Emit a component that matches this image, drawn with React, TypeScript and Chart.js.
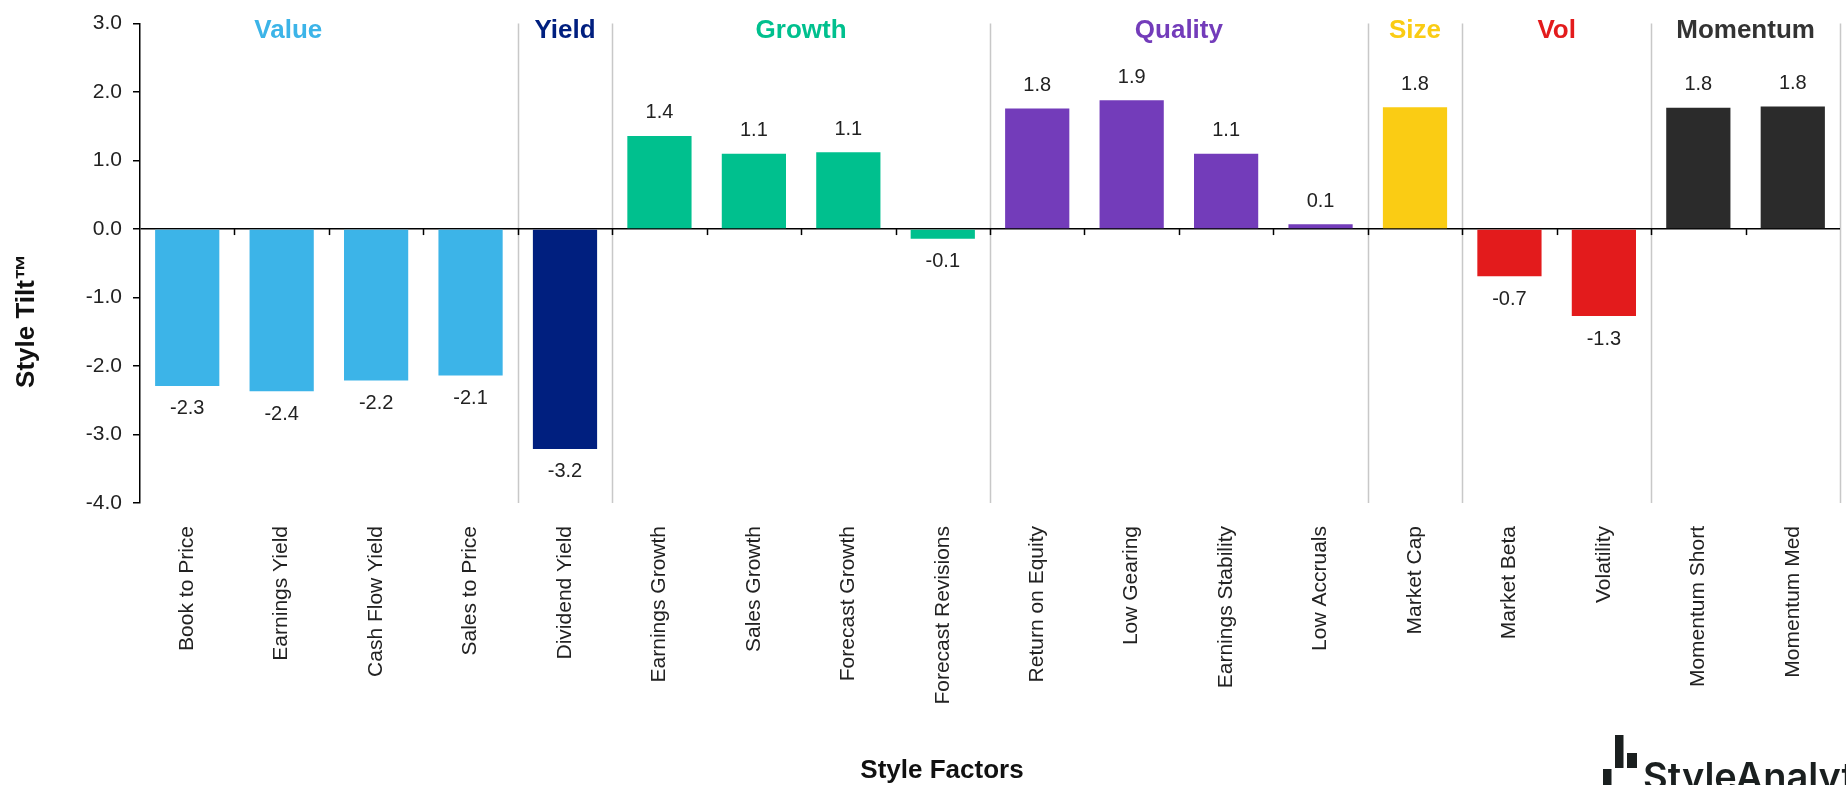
import React, { useEffect, useRef } from "react";
import { Chart, registerables } from "chart.js";

Chart.register(...registerables);

const categories = [
  "Book to Price", "Earnings Yield", "Cash Flow Yield", "Sales to Price",
  "Dividend Yield",
  "Earnings Growth", "Sales Growth", "Forecast Growth", "Forecast Revisions",
  "Return on Equity", "Low Gearing", "Earnings Stability", "Low Accruals",
  "Market Cap",
  "Market Beta", "Volatility",
  "Momentum Short", "Momentum Med",
];

const values = [
  -2.29, -2.37, -2.21, -2.14,
  -3.21,
  1.36, 1.1, 1.12, -0.14,
  1.76, 1.88, 1.1, 0.07,
  1.78,
  -0.69, -1.27,
  1.77, 1.79,
];

const groupNames = ["Value", "Yield", "Growth", "Quality", "Size", "Vol", "Momentum"];
const groupSizes = [4, 1, 4, 4, 1, 2, 2];
const groupColors = ["#3CB4E8", "#001F7F", "#00C08E", "#733CBA", "#FACC14", "#E31B1C", "#2B2B2B"];
const groupTitleColors = ["#3CB4E8", "#001F7F", "#00C08E", "#733CBA", "#FACC14", "#E31B1C", "#333333"];

const yTicks = [-4, -3, -2, -1, 0, 1, 2, 3];

const FONT = "'Liberation Sans', Arial, sans-serif";

function barColors(): string[] {
  const out: string[] = [];
  groupSizes.forEach((n, g) => {
    for (let i = 0; i < n; i++) out.push(groupColors[g]);
  });
  return out;
}

const decor = {
  id: "decor",
  beforeDraw(chart: any) {
    const { ctx, chartArea } = chart;
    const n = categories.length;
    const catW = (chartArea.right - chartArea.left) / n;
    ctx.save();
    ctx.strokeStyle = "#C8C8C8";
    ctx.lineWidth = 1.5;
    let acc = 0;
    groupSizes.forEach((s) => {
      acc += s;
      const x = Math.round(chartArea.left + acc * catW) + 0.5;
      ctx.beginPath();
      ctx.moveTo(x, chartArea.top);
      ctx.lineTo(x, chartArea.bottom);
      ctx.stroke();
    });
    ctx.restore();
  },
  afterDatasetsDraw(chart: any) {
    const { ctx, chartArea, scales } = chart;
    const n = categories.length;
    const catW = (chartArea.right - chartArea.left) / n;
    const y0 = scales.y.getPixelForValue(0);
    ctx.save();
    ctx.strokeStyle = "#000";
    ctx.lineWidth = 1.5;
    for (let i = 1; i < n; i++) {
      const x = Math.round(chartArea.left + i * catW) + 0.5;
      ctx.beginPath();
      ctx.moveTo(x, y0);
      ctx.lineTo(x, y0 + 6);
      ctx.stroke();
    }
    const meta = chart.getDatasetMeta(0);
    ctx.font = `20px ${FONT}`;
    ctx.fillStyle = "#222";
    ctx.textAlign = "center";
    ctx.textBaseline = "middle";
    meta.data.forEach((el: any, i: number) => {
      const v = values[i];
      const y = v >= 0 ? el.y - 23 : el.y + 23;
      ctx.fillText(v.toFixed(1), el.x, y);
    });
    ctx.restore();
  },
  afterDraw(chart: any) {
    const { ctx, chartArea } = chart;
    const n = categories.length;
    const catW = (chartArea.right - chartArea.left) / n;
    const xAt = (idx: number) => chartArea.left + (idx + 0.5) * catW;
    ctx.save();
    ctx.font = `bold 26px ${FONT}`;
    ctx.textAlign = "center";
    ctx.textBaseline = "middle";
    let start = 0;
    groupNames.forEach((name, g) => {
      const size = groupSizes[g];
      let c = start + size / 2 - 0.5;
      if (g === 0) c -= 0.43;
      ctx.fillStyle = groupTitleColors[g];
      ctx.fillText(name, xAt(c), 31);
      start += size;
    });
    ctx.fillStyle = "#111";
    ctx.save();
    ctx.translate(27, 321);
    ctx.rotate(-Math.PI / 2);
    ctx.fillText("Style Tilt\u2122", 0, 0);
    ctx.restore();
    ctx.fillText("Style Factors", 942, 771);
    ctx.fillStyle = "#1A1F1F";
    ctx.fillRect(1603, 769, 8.5, 20);
    ctx.fillRect(1615, 735, 8.5, 33);
    ctx.fillRect(1627, 753, 10, 15);
    ctx.font = `600 38px Inter, ${FONT}`;
    ctx.textAlign = "left";
    ctx.textBaseline = "alphabetic";
    ctx.fillText("StyleAnalytics", 1643, 790);
    ctx.restore();
  },
};

export default function App() {
  const ref = useRef<HTMLCanvasElement | null>(null);
  useEffect(() => {
    document.body.style.margin = "0";
    if (!ref.current) return;
    const chart = new Chart(ref.current, {
      type: "bar",
      data: {
        labels: categories,
        datasets: [
          {
            data: values,
            backgroundColor: barColors(),
            borderWidth: 0,
            categoryPercentage: 1,
            barPercentage: 0.68,
          },
        ],
      },
      options: {
        animation: false,
        responsive: true,
        maintainAspectRatio: false,
        layout: { padding: { top: 19, right: 6, left: 0, bottom: 0 } },
        plugins: {
          legend: { display: false },
          tooltip: { enabled: false },
          title: { display: false },
        },
        scales: {
          x: {
            grid: { display: false },
            border: { display: false },
            ticks: {
              autoSkip: false,
              minRotation: 90,
              maxRotation: 90,
              padding: 15,
              color: "#222",
              font: { family: FONT, size: 21 },
            },
            afterFit: (s: any) => {
              s.height = 282;
              s.paddingLeft = 0;
              s.paddingRight = 0;
            },
          },
          y: {
            min: yTicks[0],
            max: yTicks[yTicks.length - 1],
            afterBuildTicks: (s: any) => {
              s.ticks = yTicks.map((v) => ({ value: v }));
            },
            grid: {
              color: (c: any) => (c.tick && c.tick.value === 0 ? "#000" : "rgba(0,0,0,0)"),
              tickColor: "#000",
              tickLength: 7,
              lineWidth: 1.5,
            },
            border: { display: true, color: "#000", width: 1.5 },
            ticks: {
              padding: 11,
              color: "#222",
              font: { family: FONT, size: 21 },
              callback: (v: any) => Number(v).toFixed(1),
            },
            afterFit: (s: any) => {
              s.width = 140;
            },
          },
        },
      },
      plugins: [decor],
    });
    return () => chart.destroy();
  }, []);
  return (
    <div style={{ position: "fixed", left: 0, top: 0, width: "1846px", height: "785px" }}>
      <canvas ref={ref} />
    </div>
  );
}
